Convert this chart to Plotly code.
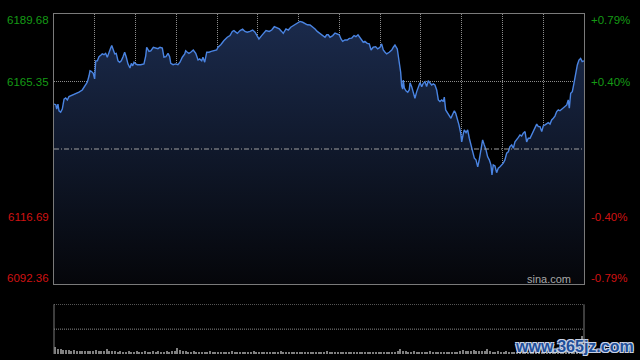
import plotly.graph_objects as go

# ---------------- data ----------------
Y_MIN = 6092.36
Y_MAX = 6189.68
PREV_CLOSE = 6141.02
GRID_LEVELS = [6116.69, 6165.35]
left_labels = ["6189.68", "6165.35", "6116.69", "6092.36"]
left_label_values = [6189.68, 6165.35, 6116.69, 6092.36]
right_labels = ["+0.79%", "+0.40%", "-0.40%", "-0.79%"]

# minutes since 09:30 open
minutes = [0.0,1.3,2.0,2.9,3.7,4.9,6.1,7.4,8.6,9.8,
11.0,13.5,16.0,18.4,20.8,23.3,24.5,25.8,26.5,27.4,
28.9,29.9,30.7,31.9,33.1,34.4,35.5,36.8,38.0,39.2,
40.5,41.7,42.5,43.6,44.7,45.8,47.1,48.3,49.5,50.8,
52.0,53.2,54.4,55.9,56.9,57.9,58.9,60.1,61.3,63.8,
66.2,67.5,68.2,69.9,71.2,73.1,74.8,76.5,78.0,79.7,
80.9,82.4,83.9,85.1,85.9,87.6,89.6,91.2,92.7,94.4,
96.2,96.9,98.1,99.3,100.6,102.5,104.3,106.0,107.2,108.7,
109.6,110.9,112.4,114.1,115.7,117.7,119.7,120.7,122.7,125.1,
127.5,129.5,131.2,132.4,
134.9,136.9,138.8,140.5,142.2,144.2,146.2,147.9,149.6,150.8,
152.8,154.0,156.0,158.4,160.2,162.1,163.9,165.8,167.5,168.7,
170.7,172.4,174.2,176.1,177.8,179.3,181.0,183.0,184.7,186.4,
188.4,190.4,192.1,193.7,195.7,197.7,199.4,200.7,201.8,203.1,
205.1,206.8,208.5,209.9,211.2,212.4,214.1,215.8,217.3,219.1,
220.8,222.2,223.7,225.2,226.4,227.6,228.8,230.5,232.0,233.3,
234.9,236.7,238.2,239.9,241.1,242.3,243.6,244.8,246.7,248.5,
249.7,250.9,252.6,253.9,255.1,255.8,256.6,257.0,257.8,259.0,
260.3,261.4,
262.0,263.2,264.4,265.6,266.9,268.1,269.3,270.6,271.7,273.0,
274.2,275.4,276.7,277.9,279.1,280.3,281.6,282.8,284.0,285.3,
286.5,287.2,288.2,289.7,290.9,292.1,293.1,294.6,295.6,296.8,
298.0,299.3,300.0,301.0,301.9,303.2,304.4,305.6,306.8,308.1,
309.3,310.5,311.8,312.9,314.2,315.4,316.6,317.9,319.1,320.3,
321.5,322.3,323.2,324.5,325.7,326.9,328.2,329.4,330.6,331.8,
333.1,334.3,335.5,336.8,338.0,339.2,340.5,341.7,342.9,344.1,
345.3,346.6,347.8,349.0,350.3,351.5,352.7,353.9,355.2,356.4,
357.6,358.9,360.0,361.3,362.5,363.7,365.0,366.2,367.4,368.6,
369.9,371.1,372.3,373.6,374.8,376.0,377.3,378.4,379.2,380.2,
381.4,382.6,383.9,385.1,386.3,387.5,388.7,390.0]

prices = [6157.2,6157.0,6155.4,6157.2,6154.8,6154.3,6155.4,6159.0,6159.4,6158.7,
6159.9,6160.4,6160.8,6161.5,6162.3,6164.2,6165.1,6167.4,6169.2,6169.0,
6168.3,6166.3,6172.8,6172.8,6174.3,6174.8,6175.3,6175.0,6175.5,6174.1,
6176.2,6177.4,6178.3,6176.7,6175.3,6175.5,6172.8,6172.3,6172.8,6174.3,
6175.9,6174.1,6171.7,6170.2,6171.9,6171.0,6172.3,6171.7,6171.4,6171.4,
6171.7,6174.6,6177.7,6176.2,6176.4,6177.7,6177.4,6177.2,6177.7,6177.4,
6174.1,6174.3,6175.5,6174.3,6171.9,6171.4,6171.7,6171.4,6172.3,6174.1,
6175.3,6176.4,6175.9,6175.5,6175.9,6176.7,6175.5,6173.1,6173.5,6172.8,
6174.1,6172.3,6175.9,6175.9,6176.2,6176.4,6176.7,6177.7,6178.6,6180.1,
6181.3,6181.9,6183.4,6183.7,
6182.7,6183.7,6184.2,6183.4,6183.1,6183.4,6183.9,6183.1,6181.9,6180.7,
6181.9,6182.7,6183.7,6183.4,6183.9,6185.1,6184.6,6184.3,6183.4,6182.7,
6184.3,6183.9,6184.9,6185.5,6186.1,6186.7,6187.0,6186.7,6186.3,6185.8,
6185.7,6185.1,6184.3,6183.4,6182.7,6181.9,6181.3,6182.2,6182.2,6181.3,
6181.9,6182.8,6182.5,6182.2,6180.7,6179.8,6180.3,6180.3,6180.9,6181.0,
6181.9,6181.5,6182.2,6181.3,6180.3,6179.5,6179.8,6179.1,6178.9,6176.7,
6177.7,6177.9,6177.1,6177.7,6178.9,6176.7,6175.9,6175.3,6175.9,6176.7,
6177.7,6178.5,6177.1,6172.8,6168.7,6163.8,6162.6,6165.9,6163.0,6162.0,
6161.5,6162.3,
6164.9,6163.5,6161.1,6159.3,6161.7,6163.5,6164.9,6163.5,6164.7,6165.3,
6163.5,6165.6,6164.7,6164.1,6164.5,6164.1,6162.3,6158.7,6158.1,6158.7,
6158.1,6159.7,6155.1,6153.9,6153.3,6152.1,6153.3,6154.8,6153.9,6152.1,
6149.7,6146.7,6143.6,6146.1,6147.9,6146.9,6147.9,6144.9,6142.5,6140.7,
6137.7,6137.1,6134.6,6137.1,6140.7,6144.3,6142.5,6140.7,6138.2,6137.1,
6135.3,6131.7,6135.3,6134.9,6132.5,6134.1,6134.6,6135.3,6135.9,6137.1,
6139.5,6140.0,6141.9,6142.5,6141.3,6143.6,6144.3,6145.2,6146.1,6145.7,
6146.7,6147.3,6143.6,6144.9,6144.9,6146.1,6147.9,6148.5,6150.0,6149.1,
6149.1,6147.3,6149.3,6149.7,6150.0,6150.5,6150.0,6151.5,6152.1,6152.9,
6154.5,6155.1,6154.8,6155.3,6155.7,6156.1,6156.9,6158.7,6155.7,6161.1,
6161.7,6164.7,6168.3,6171.3,6173.1,6173.7,6172.5,6172.8]

assert len(minutes) == len(prices), (len(minutes), len(prices))

# volume (relative units, axis 0..100), one bar per 2 minutes
volumes = [14,10,10,8,7,7,6,7,6,6,6,5,6,5,6,
8,6,5,6,9,6,5,5,4,5,4,4,5,4,4,
5,4,4,5,4,4,5,4,5,4,4,5,4,5,5,
12,7,6,5,4,4,5,4,4,3,4,4,5,4,4,
3,4,4,3,4,5,4,3,4,4,3,4,4,5,4,
4,3,4,4,3,4,3,4,5,4,3,4,4,3,4,
3,4,4,3,4,3,4,4,3,4,5,4,3,4,3,
4,3,4,4,3,4,4,3,4,3,3,4,4,3,4,
4,3,4,3,4,4,5,10,6,5,4,4,5,4,4,
3,4,4,5,4,3,4,4,3,4,4,3,4,4,5,
7,5,6,5,8,5,6,5,5,9,5,4,4,5,4,
4,5,4,4,3,4,4,5,4,4,5,4,4,5,4,
5,4,5,5,6,5,5,6,5,6,7,6,7,10,36]
vol_minutes = list(range(1, 390, 2))
assert len(vol_minutes) == len(volumes), (len(vol_minutes), len(volumes))

# ---------------- style ----------------
FONT = "Liberation Sans, Arial, sans-serif"
GRID = "#8c8c8c"
FRAME = "#7a7a7a"
GREEN = "#159a15"
RED = "#d01212"

MAIN_BOTTOM = 0.20588
VOL_TOP = 0.14618

fig = go.Figure()
fig.add_trace(go.Scatter(
    x=minutes, y=prices, mode="lines",
    line=dict(color="#4a84e2", width=1.4),
    fill="tozeroy",
    fillgradient=dict(type="vertical",
                      colorscale=[[0, "#05060a"], [1, "#1b2b4d"]],
                      start=Y_MIN, stop=Y_MAX),
    xaxis="x", yaxis="y", hoverinfo="skip"))

fig.add_trace(go.Bar(
    x=vol_minutes, y=volumes, width=1.1,
    marker=dict(color="#808080", line=dict(width=0)),
    xaxis="x2", yaxis="y2", hoverinfo="skip"))

fig.update_layout(
    width=640, height=360,
    paper_bgcolor="black", plot_bgcolor="black",
    margin=dict(l=54, r=56, t=14, b=6),
    showlegend=False,
    xaxis=dict(domain=[0, 1], range=[0, 390], anchor="y",
               tickvals=list(range(30, 390, 30)),
               showgrid=True, gridcolor=GRID, griddash="1px,1px", gridwidth=1,
               showticklabels=False, ticks="", zeroline=False,
               showline=True, mirror=True, linecolor=FRAME, linewidth=1),
    yaxis=dict(domain=[MAIN_BOTTOM, 1], range=[Y_MIN, Y_MAX], anchor="x",
               tickvals=GRID_LEVELS,
               showgrid=True, gridcolor=GRID, griddash="1px,1px", gridwidth=1,
               showticklabels=False, ticks="", zeroline=False,
               showline=True, mirror=True, linecolor=FRAME, linewidth=1),
    xaxis2=dict(domain=[0, 1], range=[0, 390], anchor="y2",
                showgrid=False, showticklabels=False, ticks="",
                zeroline=False, showline=False),
    yaxis2=dict(domain=[0, VOL_TOP], range=[0, 100], anchor="x2",
                showgrid=False, showticklabels=False, ticks="",
                zeroline=False, showline=False),
    bargap=0,
)

shapes = [
    # previous close line
    dict(type="line", xref="x", yref="y", x0=0, x1=390, y0=PREV_CLOSE, y1=PREV_CLOSE,
         line=dict(color="#a0a0a0", width=1, dash="5px,2px,1px,2px"), layer="above"),
    # volume panel frame
    dict(type="line", xref="paper", yref="paper", x0=0, x1=0, y0=0, y1=VOL_TOP,
         line=dict(color=FRAME, width=1)),
    dict(type="line", xref="paper", yref="paper", x0=1, x1=1, y0=0, y1=VOL_TOP,
         line=dict(color=FRAME, width=1)),
    dict(type="line", xref="x2", yref="y2", x0=0, x1=390, y0=100, y1=100,
         line=dict(color=GRID, width=1, dash="1px,1px")),
    dict(type="line", xref="x2", yref="y2", x0=0, x1=390, y0=50, y1=50,
         line=dict(color=GRID, width=1, dash="1px,1px")),
]
fig.update_layout(shapes=shapes)

annotations = []
shifts = [-6, 0, 0, 6]
for i, (txt, val, rtxt) in enumerate(zip(left_labels, left_label_values, right_labels)):
    col = GREEN if i < 2 else RED
    annotations.append(dict(text=txt, xref="paper", yref="y", x=0, y=val,
                            xanchor="right", yanchor="middle", xshift=-3, yshift=shifts[i],
                            showarrow=False, font=dict(family=FONT, size=11.5, color=col)))
    annotations.append(dict(text=rtxt, xref="paper", yref="y", x=1, y=val,
                            xanchor="left", yanchor="middle", xshift=5, yshift=shifts[i],
                            showarrow=False, font=dict(family=FONT, size=11.5, color=col)))

annotations.append(dict(text="sina.com", xref="paper", yref="y", x=0.9787, y=Y_MIN,
                        xanchor="right", yanchor="middle", yshift=5, showarrow=False,
                        font=dict(family=FONT, size=11, color="#a8a8a8")))
annotations.append(dict(text="<b>www.365jz.com</b>", xref="paper", yref="paper",
                        x=0.983, y=0.0235, xanchor="center", yanchor="middle",
                        showarrow=False,
                        font=dict(family=FONT, size=16, color="#1f4f9a",
                                  shadow="1px 1px 0 #c9d3e6, -1px -1px 0 #c9d3e6, 1px -1px 0 #c9d3e6, -1px 1px 0 #c9d3e6")))
fig.update_layout(annotations=annotations)

fig.write_html("out.html", config={"displayModeBar": False})

# remove the default page margin so the 640x360 figure fills the window exactly
with open("out.html", "r", encoding="utf-8") as f:
    html = f.read()
html = html.replace("<body>", '<body style="margin:0;padding:0;background:#000;overflow:hidden">', 1)
with open("out.html", "w", encoding="utf-8") as f:
    f.write(html)
